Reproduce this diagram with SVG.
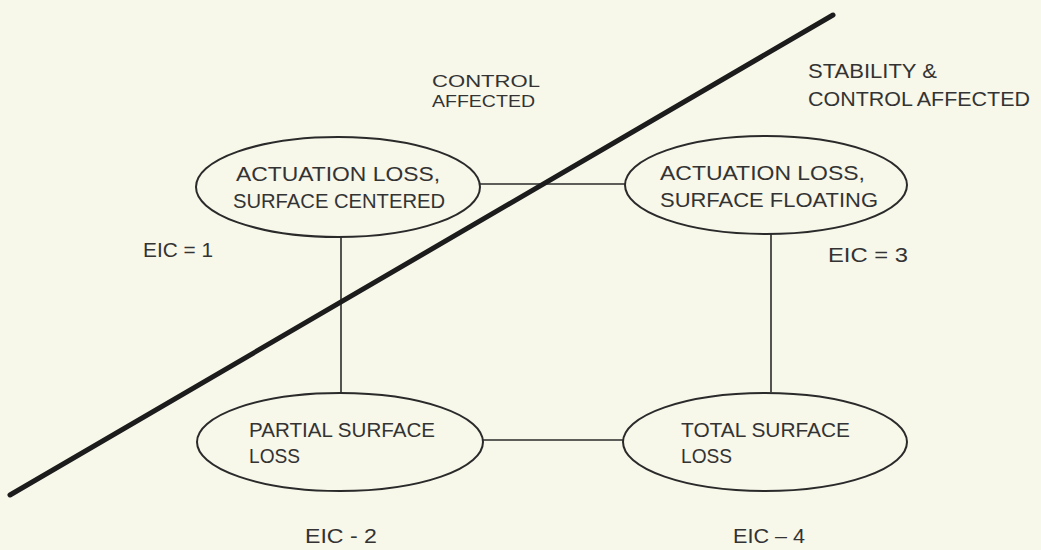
<svg xmlns="http://www.w3.org/2000/svg" width="1041" height="550" viewBox="0 0 1041 550">
  <style>
    .bg { fill: #f7f7ea; }
    .node { fill: none; stroke: #2a2a2a; stroke-width: 2; }
    .conn { stroke: #2a2a2a; stroke-width: 1.6; fill: none; }
    .divider { stroke: #1c1c1c; stroke-width: 5; stroke-linecap: round; }
    .t { font-family: "Liberation Sans", "DejaVu Sans", sans-serif; font-size: 20px; fill: #333333; }
    .s { font-size: 17px; }
  </style>
  <rect class="bg" x="0" y="0" width="1041" height="550"/>

  <g id="connectors">
    <line class="conn" x1="480" y1="184" x2="625" y2="184"/>
    <line class="conn" x1="341" y1="236" x2="341" y2="393"/>
    <line class="conn" x1="771" y1="234" x2="771" y2="392"/>
    <line class="conn" x1="483" y1="440" x2="623" y2="440"/>
  </g>

  <g id="divider">
    <line class="divider" x1="10" y1="495" x2="833" y2="15"/>
  </g>

  <g id="region-labels">
    <text class="t s" x="432" y="87" textLength="108" lengthAdjust="spacingAndGlyphs">CONTROL</text>
    <text class="t s" x="432" y="107" textLength="103" lengthAdjust="spacingAndGlyphs">AFFECTED</text>
    <text class="t" x="808" y="78" textLength="129" lengthAdjust="spacingAndGlyphs">STABILITY &amp;</text>
    <text class="t" x="808" y="106" textLength="222" lengthAdjust="spacingAndGlyphs">CONTROL AFFECTED</text>
  </g>

  <g id="node-actuation-centered">
    <ellipse class="node" cx="338" cy="187" rx="142" ry="50"/>
    <text class="t" x="236" y="181" textLength="204" lengthAdjust="spacingAndGlyphs">ACTUATION LOSS,</text>
    <text class="t" x="233" y="208" textLength="212" lengthAdjust="spacingAndGlyphs">SURFACE CENTERED</text>
  </g>

  <g id="node-actuation-floating">
    <ellipse class="node" cx="766" cy="185" rx="141" ry="49"/>
    <text class="t" x="660" y="180" textLength="205" lengthAdjust="spacingAndGlyphs">ACTUATION LOSS,</text>
    <text class="t" x="660" y="207" textLength="218" lengthAdjust="spacingAndGlyphs">SURFACE FLOATING</text>
  </g>

  <g id="node-partial-loss">
    <ellipse class="node" cx="340" cy="442" rx="143" ry="49"/>
    <text class="t" x="249" y="437" textLength="186" lengthAdjust="spacingAndGlyphs">PARTIAL SURFACE</text>
    <text class="t" x="249" y="463" textLength="51" lengthAdjust="spacingAndGlyphs">LOSS</text>
  </g>

  <g id="node-total-loss">
    <ellipse class="node" cx="765" cy="442" rx="142" ry="49"/>
    <text class="t" x="681" y="437" textLength="169" lengthAdjust="spacingAndGlyphs">TOTAL SURFACE</text>
    <text class="t" x="681" y="463" textLength="51" lengthAdjust="spacingAndGlyphs">LOSS</text>
  </g>

  <g id="eic-labels">
    <text class="t" x="143" y="257" textLength="70" lengthAdjust="spacingAndGlyphs">EIC = 1</text>
    <text class="t" x="828" y="262" textLength="80" lengthAdjust="spacingAndGlyphs">EIC = 3</text>
    <text class="t" x="305" y="543" textLength="72" lengthAdjust="spacingAndGlyphs">EIC - 2</text>
    <text class="t" x="733" y="543" textLength="72" lengthAdjust="spacingAndGlyphs">EIC – 4</text>
  </g>
</svg>
